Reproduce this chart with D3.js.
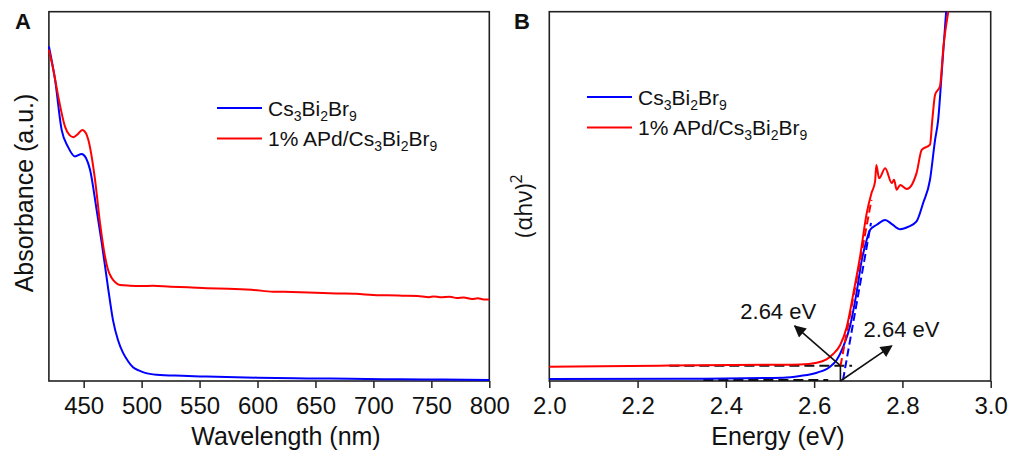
<!DOCTYPE html>
<html>
<head>
<meta charset="utf-8">
<script src="https://cdn.jsdelivr.net/npm/d3@7"></script>
<style>
  body { margin: 0; background: #fff; }
  text { font-family: "Liberation Sans", Arial, sans-serif; fill: #111; }
</style>
</head>
<body>
<svg id="fig" width="1013" height="454"></svg>
<script>
/* ---- panel A : absorbance spectra ---- */
const wlTicks = [450, 500, 550, 600, 650, 700, 750, 800];
const absBlue = [
  [420, 0.906], [425.3, 0.816], [431, 0.680], [436.5, 0.634], [442.5, 0.608],
  [448.3, 0.615], [452, 0.604], [455.5, 0.572], [461.2, 0.463], [465.6, 0.374],
  [471.3, 0.247], [475.3, 0.165], [479.6, 0.111], [484, 0.076], [488, 0.055],
  [492.6, 0.037], [498, 0.028], [503, 0.022], [513, 0.017], [535, 0.014],
  [556, 0.012], [600, 0.009], [642.5, 0.007], [680, 0.006], [723, 0.0046],
  [760, 0.0038], [800, 0.003]
];
const absRed = [
  [420, 0.897], [424, 0.840], [428.1, 0.770], [433.9, 0.689], [437.5, 0.667],
  [441.1, 0.660], [445.1, 0.669], [448.8, 0.680], [452, 0.671], [454, 0.653],
  [459.8, 0.545], [464.1, 0.428], [468.4, 0.337], [471, 0.301], [474.2, 0.279],
  [477.5, 0.267], [481.4, 0.260], [490, 0.258], [498.7, 0.257], [510, 0.258],
  [525, 0.255], [540, 0.254], [556.2, 0.251], [575, 0.250], [595, 0.247],
  [613.4, 0.242], [630, 0.241], [650, 0.239], [668, 0.237], [685, 0.236],
  [699.7, 0.233], [712, 0.232], [725, 0.231], [738, 0.230], [748, 0.227],
  [752, 0.229], [757.5, 0.227], [766, 0.228], [772, 0.225], [778, 0.226],
  [785, 0.222], [790, 0.224], [795, 0.221], [800, 0.221]
];

/* ---- panel B : Tauc plot ---- */
const eTicks = [2.0, 2.2, 2.4, 2.6, 2.8, 3.0];
const taucBlue = [
  [2.00, 0.0054], [2.30, 0.006], [2.53, 0.009], [2.568, 0.0136], [2.606, 0.0225],
  [2.636, 0.0388], [2.651, 0.057], [2.666, 0.093], [2.681, 0.147], [2.696, 0.238],
  [2.708, 0.328], [2.719, 0.382], [2.7265, 0.409], [2.742, 0.423], [2.761, 0.436],
  [2.776, 0.425], [2.795, 0.411], [2.814, 0.418], [2.832, 0.432], [2.847, 0.482],
  [2.8625, 0.545], [2.874, 0.653], [2.881, 0.707], [2.889, 0.834], [2.899, 1.0]
];
const taucRed = [
  [2.00, 0.0388], [2.25, 0.0415], [2.50, 0.044], [2.568, 0.045], [2.606, 0.0496],
  [2.628, 0.0588], [2.643, 0.073], [2.659, 0.0976], [2.674, 0.147], [2.689, 0.238],
  [2.704, 0.337], [2.719, 0.454], [2.730, 0.509], [2.738, 0.540], [2.741, 0.585],
  [2.747, 0.549], [2.761, 0.576], [2.776, 0.536], [2.781, 0.545], [2.787, 0.518],
  [2.795, 0.531], [2.810, 0.520], [2.832, 0.563], [2.8437, 0.626], [2.8625, 0.640],
  [2.8677, 0.707], [2.874, 0.775], [2.885, 0.798], [2.893, 0.906], [2.904, 1.0]
];
// linear fits and baselines used for the band-gap estimate
const fitRed = [[2.6597, 0.0407], [2.7299, 0.4905]];
const fitBlue = [[2.6654, 0.0027], [2.7288, 0.428]];
const baseRed = [[2.272, 0.0415], [2.686, 0.0415]];
const baseBlue = [[2.349, 0.0027], [2.632, 0.0027]];
const gapLabel = "2.64 eV";
// [from, arrow tip, label position]
const gapArrows = [
  [[2.6595, 0.0415], [2.556, 0.149], [2.5186, 0.168]],
  [[2.6595, 0.0], [2.7757, 0.0949], [2.798, 0.118]]
];

const svg = d3.select("#fig");

svg.append("defs").append("marker")
  .attr("id", "arrow")
  .attr("viewBox", "0 0 10 10")
  .attr("refX", 9).attr("refY", 5)
  .attr("markerWidth", 15).attr("markerHeight", 12)
  .attr("markerUnits", "userSpaceOnUse")
  .attr("orient", "auto")
  .append("path")
  .attr("d", "M0,0 L10,5 L0,10 z")
  .attr("fill", "#111");

const plotTop = 11.7, plotBottom = 381;

/* 枠と軸をつくる */
function makePanel(left, right, domain, ticks, fmt) {
  const g = svg.append("g");
  const x = d3.scaleLinear().domain(domain).range([left, right]);
  const y = d3.scaleLinear().domain([0, 1]).range([plotBottom, plotTop]);

  g.append("g")
    .attr("transform", `translate(0,${plotBottom})`)
    .call(d3.axisBottom(x).tickValues(ticks).tickFormat(fmt)
      .tickSize(7).tickPadding(9).tickSizeOuter(0))
    .call(a => a.select(".domain").remove())
    .call(a => a.selectAll("line").attr("stroke", "#222").attr("stroke-width", 1.5))
    .call(a => a.selectAll("text")
      .style("font-size", "24px")
      .style("font-family", "'Liberation Sans', Arial, sans-serif")
      .attr("fill", "#111"));

  g.append("rect")
    .attr("x", left).attr("y", plotTop)
    .attr("width", right - left).attr("height", plotBottom - plotTop)
    .attr("fill", "none").attr("stroke", "#222").attr("stroke-width", 1.6);

  return { g, x, y };
}

function curve(p, data, color, dash, width) {
  const line = d3.line().x(d => p.x(d[0])).y(d => p.y(d[1])).curve(d3.curveMonotoneX);
  return p.g.append("path")
    .datum(data)
    .attr("d", line)
    .attr("fill", "none")
    .attr("stroke", color)
    .attr("stroke-width", width || 2)
    .attr("stroke-dasharray", dash || null);
}

function legend(p, lx, ly, gap) {
  const items = [
    { color: "#0000ff", parts: [["Cs", 0], ["3", 1], ["Bi", 0], ["2", 1], ["Br", 0], ["9", 1]] },
    { color: "#ff0000", parts: [["1% APd/Cs", 0], ["3", 1], ["Bi", 0], ["2", 1], ["Br", 0], ["9", 1]] }
  ];
  items.forEach((it, i) => {
    const yy = ly + i * gap;
    p.g.append("line")
      .attr("x1", lx).attr("x2", lx + 45)
      .attr("y1", yy).attr("y2", yy)
      .attr("stroke", it.color).attr("stroke-width", 2);
    const t = p.g.append("text")
      .attr("x", lx + 51).attr("y", yy + 7.5)
      .style("font-size", "21px");
    it.parts.forEach(([s, sub], k) => {
      const prev = k > 0 ? it.parts[k - 1][1] : 0;
      t.append("tspan")
        .attr("dy", sub && !prev ? 5 : (!sub && prev ? -5 : 0))
        .style("font-size", sub ? "14px" : "21px")
        .text(s);
    });
  });
}

/* ---- A ---- */
const pA = makePanel(48.9, 489.3, [420, 800], wlTicks, d3.format("d"));
curve(pA, absBlue, "#0000ff");
curve(pA, absRed, "#ff0000");
legend(pA, 217, 108, 30.5);

svg.append("text")
  .attr("x", 286).attr("y", 445)
  .attr("text-anchor", "middle")
  .style("font-size", "25px")
  .text("Wavelength (nm)");

svg.append("text")
  .attr("transform", "translate(33,193) rotate(-90)")
  .attr("text-anchor", "middle")
  .style("font-size", "25px")
  .text("Absorbance (a.u.)");

svg.append("text")
  .attr("x", 15).attr("y", 29)
  .style("font-weight", "bold")
  .style("font-size", "22px")
  .text("A");

/* ---- B ---- */
const pB = makePanel(549.3, 990.7, [2.0, 3.0], eTicks, d3.format(".1f"));
curve(pB, baseRed, "#111", "10,5", 2);
curve(pB, baseBlue, "#111", "10,5", 2);
curve(pB, taucBlue, "#0000ff");
curve(pB, taucRed, "#ff0000");
curve(pB, fitRed, "#ff0000", "8,4", 2);
curve(pB, fitBlue, "#0000ff", "8,4", 2);

pB.g.append("line")
  .attr("x1", pB.x(2.6595)).attr("x2", pB.x(2.6595))
  .attr("y1", pB.y(0.0415)).attr("y2", pB.y(0))
  .attr("stroke", "#111").attr("stroke-width", 1.6);

gapArrows.forEach(([from, tip, lab]) => {
  pB.g.append("line")
    .attr("x1", pB.x(from[0])).attr("y1", pB.y(from[1]))
    .attr("x2", pB.x(tip[0])).attr("y2", pB.y(tip[1]))
    .attr("stroke", "#111").attr("stroke-width", 1.6)
    .attr("marker-end", "url(#arrow)");
  pB.g.append("text")
    .attr("x", pB.x(lab[0])).attr("y", pB.y(lab[1]))
    .attr("text-anchor", "middle")
    .style("font-size", "22px")
    .text(gapLabel);
});

legend(pB, 587, 97, 30.5);

svg.append("text")
  .attr("x", 778).attr("y", 445)
  .attr("text-anchor", "middle")
  .style("font-size", "25px")
  .text("Energy (eV)");

const yb = svg.append("text")
  .attr("transform", "translate(532,206) rotate(-90)")
  .attr("text-anchor", "middle")
  .style("font-family", "'Open Sans', sans-serif")
  .style("font-size", "23px");
yb.append("tspan").text("(\u03b1h\u03bd)");
yb.append("tspan").attr("dy", -10).style("font-size", "16px").text("2");

svg.append("text")
  .attr("x", 514).attr("y", 29)
  .style("font-weight", "bold")
  .style("font-size", "22px")
  .text("B");
</script>
</body>
</html>
